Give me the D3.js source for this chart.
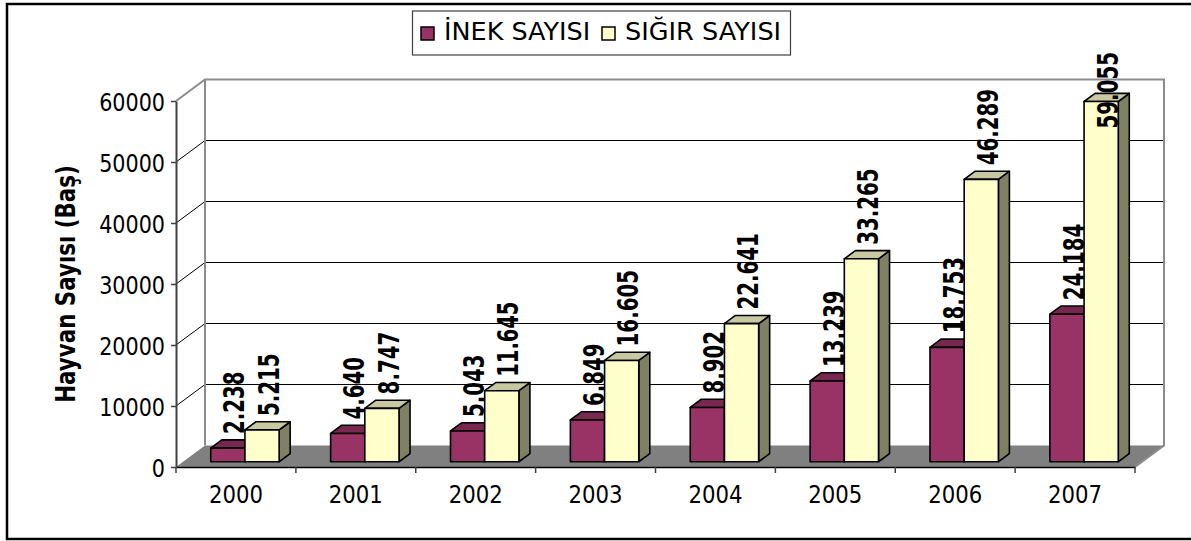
<!DOCTYPE html>
<html>
<head>
<meta charset="utf-8">
<script src="https://cdn.jsdelivr.net/npm/d3@7"></script>
<style>
  body { margin: 0; background: #fff; }
  svg { display: block; }
</style>
</head>
<body>
<svg width="1191" height="541"></svg>
<script>
// data
var years = ["2000", "2001", "2002", "2003", "2004", "2005", "2006", "2007"];
var inekSayisi = [2238, 4640, 5043, 6849, 8902, 13239, 18753, 24184];
var sigirSayisi = [5215, 8747, 11645, 16605, 22641, 33265, 46289, 59055];
var seriesNames = ["İNEK SAYISI", "SIĞIR SAYISI"];
var yTicks = [0, 10000, 20000, 30000, 40000, 50000, 60000];
var yTitle = "Hayvan Sayısı (Baş)";

var colors = [
    { front: "#993366", top: "#76284f", side: "#5e1f3f" },
    { front: "#ffffcc", top: "#c9c9a1", side: "#808064" }
];

var svg = d3.select("svg"),
    width = +svg.attr("width"),
    height = +svg.attr("height");

// 3d depth vector of the plot box
var DX = 29, DY = -21.5;
function P(x, y, t) {
    return [x + DX * t, y + DY * t];
}

var x = d3.scaleBand().domain(years).range([176, 1135]);
var y = d3.scaleLinear().domain([0, 60000]).range([467, 101]);

var barW = 34.2,
    tf = 0.245, tb = 0.625;
var xs = d3.scaleBand().domain(seriesNames).range([0, barW * 2]);
var groupOff = (x.step() - barW * 2) / 2 + 1.9;

var trLocale = d3.formatLocale({ decimal: ",", thousands: ".", grouping: [3], currency: ["", ""] });
var fmt = trLocale.format(",");

// measure with arial-like metrics, then draw DejaVu squeezed to that length
function fitText(sel, measureSize, drawSize) {
    sel.each(function () {
        var t = d3.select(this);
        t.attr("font-size", measureSize)
            .style("font-family", "'Liberation Sans', Arial, sans-serif");
        var len = this.getComputedTextLength();
        t.attr("font-size", drawSize)
            .style("font-family", "'DejaVu Sans', sans-serif")
            .attr("textLength", len)
            .attr("lengthAdjust", "spacingAndGlyphs");
    });
}

// outer frame
svg.append("rect")
    .attr("x", 7).attr("y", 4)
    .attr("width", 1190).attr("height", 535)
    .attr("fill", "#fff").attr("stroke", "#000").attr("stroke-width", 2.5);

var pts = function (arr) { return arr.map(function (p) { return p.join(","); }).join(" "); };

// floor
svg.append("polygon")
    .attr("points", pts([P(176, 467, 0), P(1135, 467, 0), P(1135, 467, 1), P(176, 467, 1)]))
    .attr("fill", "#808080");

// grid lines on side and back walls
var grid = svg.append("g");
yTicks.slice(1, -1).forEach(function (v) {
    var a = P(176, y(v), 0), b = P(176, y(v), 1), c = P(1135, y(v), 1);
    grid.append("polyline")
        .attr("points", pts([a, b, c]))
        .attr("fill", "none").attr("stroke", "#000").attr("stroke-width", 1);
});

// wall outlines
var topA = P(176, y(60000), 0), topB = P(176, y(60000), 1), topC = P(1135, y(60000), 1);
svg.append("polyline")
    .attr("points", pts([topA, topB, topC, P(1135, y(0), 1), P(1135, y(0), 0)]))
    .attr("fill", "none").attr("stroke", "#8c8c8c").attr("stroke-width", 2);
svg.append("line")
    .attr("x1", topB[0]).attr("y1", topB[1])
    .attr("x2", topB[0]).attr("y2", P(176, y(0), 1)[1])
    .attr("stroke", "#8c8c8c").attr("stroke-width", 2);

// bars
var data = years.map(function (yr, i) {
    return { year: yr, values: [inekSayisi[i], sigirSayisi[i]] };
});

var bars = svg.append("g");
data.forEach(function (d) {
    d.values.forEach(function (v, s) {
        var xl = x(d.year) + groupOff + xs(seriesNames[s]),
            xr = xl + barW,
            yv = y(v), y0 = y(0),
            col = colors[s];
        var g = bars.append("g")
            .attr("stroke", "#000").attr("stroke-width", 1.6).attr("stroke-linejoin", "round");
        g.append("polygon")
            .attr("points", pts([P(xr, yv, tf), P(xr, y0, tf), P(xr, y0, tb), P(xr, yv, tb)]))
            .attr("fill", col.side);
        g.append("polygon")
            .attr("points", pts([P(xl, yv, tf), P(xr, yv, tf), P(xr, yv, tb), P(xl, yv, tb)]))
            .attr("fill", col.top);
        g.append("polygon")
            .attr("points", pts([P(xl, yv, tf), P(xr, yv, tf), P(xr, y0, tf), P(xl, y0, tf)]))
            .attr("fill", col.front);
    });
});

// value labels
var labels = svg.append("g");
data.forEach(function (d) {
    d.values.forEach(function (v, s) {
        var xl = x(d.year) + groupOff + xs(seriesNames[s]);
        var c = P(xl + barW / 2, y(v), (tf + tb) / 2);
        var bottom = P(xl, y(v), tf)[1] - 14;
        var t = labels.append("text")
            .attr("font-weight", "bold")
            .attr("fill", "#000")
            .attr("dy", "0.36em")
            .text(fmt(v));
        fitText(t, 25, 28);
        var len = +t.attr("textLength");
        if (bottom - len < 52) bottom = 52 + len;
        t.attr("transform", "translate(" + (c[0] + 1) + "," + bottom + ") rotate(-90)");
    });
});

// y axis
var yAxis = svg.append("g")
    .attr("transform", "translate(176,0)")
    .call(d3.axisLeft(y).tickValues(yTicks).tickFormat(d3.format("d")).tickSize(5).tickSizeOuter(0).tickPadding(6));
yAxis.select(".domain").attr("stroke", "#404040").attr("stroke-width", 2);
yAxis.selectAll(".tick line").attr("stroke", "#404040").attr("stroke-width", 1.5);
yAxis.selectAll(".tick text")
    .attr("fill", "#000").attr("dy", "0.36em")
    .call(fitText, 23.7, 25);

// x axis
var xAxis = svg.append("g")
    .attr("transform", "translate(0,467)")
    .call(d3.axisBottom(x).tickSize(0).tickSizeOuter(0));
xAxis.select(".domain").attr("stroke", "#000").attr("stroke-width", 1.5);
xAxis.selectAll(".tick text")
    .attr("fill", "#000").attr("y", 36).attr("dy", 0)
    .call(fitText, 24.3, 25.5);
xAxis.selectAll(".bound")
    .data(years.concat(["end"]))
    .enter().append("line")
    .attr("x1", function (d) { return d === "end" ? x.range()[1] : x(d); })
    .attr("x2", function (d) { return d === "end" ? x.range()[1] : x(d); })
    .attr("y1", 0).attr("y2", 6)
    .attr("stroke", "#404040").attr("stroke-width", 1.5);

// y title
svg.append("text")
    .attr("transform", "translate(66,284) rotate(-90)")
    .attr("text-anchor", "middle")
    .attr("dy", "0.36em")
    .attr("font-weight", "bold")
    .text(yTitle)
    .call(fitText, 25, 26);

// legend
var legend = svg.append("g");
legend.append("rect")
    .attr("x", 412.5).attr("y", 11)
    .attr("width", 378).attr("height", 44)
    .attr("fill", "#fff").attr("stroke", "#404040").attr("stroke-width", 1.2);
var legX = [421, 602];
seriesNames.forEach(function (name, i) {
    legend.append("rect")
        .attr("x", legX[i]).attr("y", 27)
        .attr("width", 13).attr("height", 13)
        .attr("fill", colors[i].front).attr("stroke", "#000").attr("stroke-width", 1.5);
    legend.append("text")
        .attr("x", legX[i] + 23).attr("y", 39.5)
        .attr("fill", "#000")
        .text(name)
        .call(fitText, 25.4, 25);
});
</script>
</body>
</html>
